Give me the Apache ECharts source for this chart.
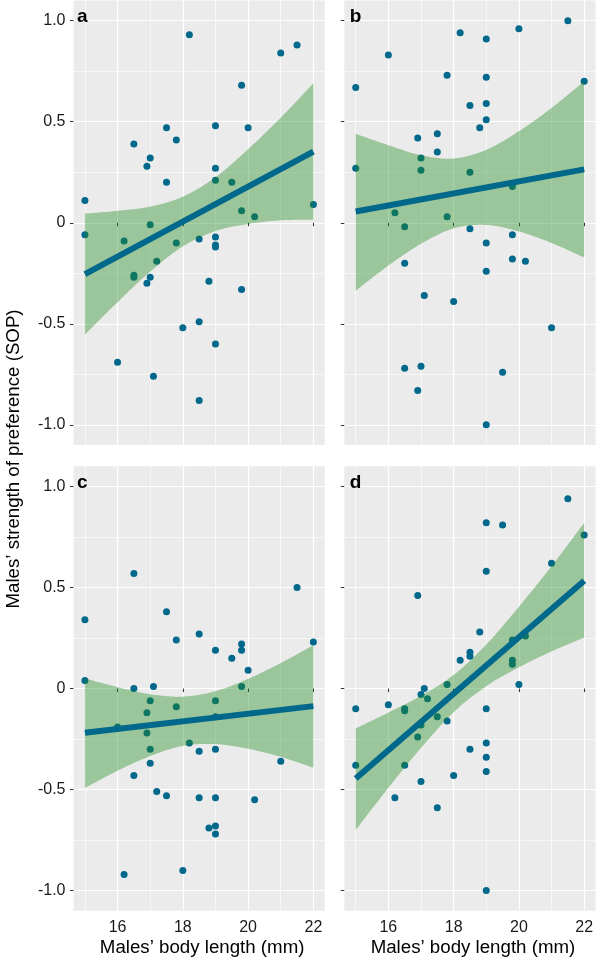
<!DOCTYPE html>
<html><head><meta charset="utf-8">
<script src="https://cdn.jsdelivr.net/npm/echarts@6/dist/echarts.min.js"></script>
<style>html,body{margin:0;padding:0;background:#fff}#c{width:597px;height:959px}</style>
</head><body><div id="c"></div>
<script>
// ---- tick labels ----
const xTicks = [16, 18, 20, 22];
const xTickLabels = ['16', '18', '20', '22'];
const xMinorTicks = [15, 17, 19, 21];
const yTicks = [-1, -0.5, 0, 0.5, 1];
const yTickLabels = ['-1.0', '-0.5', '0', '0.5', '1.0'];
const yMinorTicks = [-0.75, -0.25, 0.25, 0.75];
const panelLetters = ['a', 'b', 'c', 'd'];
const xTitle = 'Males\u2019 body length (mm)';
const yTitle = 'Males\u2019 strength of preference (SOP)';

// ---- panel a ----
const aX = [18.2,21.0,21.5,19.8,19.0,20.0,17.5,17.8,16.5,17.0,16.9,19.0,17.5,19.0,19.5,15.0,19.8,20.2,22.0,17.0,15.0,16.2,17.8,18.5,19.0,19.0,19.0,17.2,16.5,16.5,17.0,16.9,18.8,19.8,18.5,18.0,19.0,16.0,17.1,18.5];
const aY = [0.93,0.84,0.88,0.68,0.48,0.47,0.47,0.41,0.39,0.32,0.28,0.27,0.20,0.21,0.20,0.11,0.06,0.03,0.09,-0.01,-0.06,-0.09,-0.10,-0.08,-0.07,-0.11,-0.12,-0.19,-0.26,-0.27,-0.27,-0.30,-0.29,-0.33,-0.49,-0.52,-0.60,-0.69,-0.76,-0.88];
// ---- panel b ----
const bX = [21.5,20.0,18.2,19.0,16.0,17.8,19.0,22.0,15.0,18.5,19.0,19.0,18.8,16.9,17.5,17.5,17.0,17.0,15.0,18.5,19.8,16.2,17.8,16.5,18.5,19.8,19.0,19.8,20.2,16.5,19.0,17.1,18.0,21.0,16.5,17.0,19.5,16.9,19.0];
const bY = [1.0,0.96,0.94,0.91,0.83,0.73,0.72,0.70,0.67,0.58,0.59,0.51,0.47,0.42,0.44,0.35,0.32,0.26,0.27,0.25,0.18,0.05,0.03,-0.02,-0.03,-0.06,-0.10,-0.18,-0.19,-0.20,-0.24,-0.36,-0.39,-0.52,-0.72,-0.71,-0.74,-0.83,-1.0];
// ---- panel c ----
const cX = [16.5,21.5,15.0,17.5,17.8,18.5,19.0,19.8,19.8,19.5,22.0,20.0,15.0,16.5,17.1,19.8,17.0,19.0,17.8,16.9,16.0,19.0,16.9,18.2,17.0,18.5,19.0,17.0,21.0,16.5,17.2,17.5,18.5,19.0,20.2,18.8,19.0,19.0,18.0,16.2];
const cY = [0.57,0.50,0.34,0.38,0.24,0.27,0.19,0.22,0.19,0.15,0.23,0.09,0.04,0.0,0.01,0.01,-0.06,-0.06,-0.09,-0.12,-0.19,-0.14,-0.22,-0.27,-0.30,-0.31,-0.30,-0.37,-0.36,-0.43,-0.51,-0.53,-0.54,-0.54,-0.55,-0.69,-0.68,-0.72,-0.90,-0.92];
// ---- panel d ----
const dX = [21.5,19.0,19.5,22.0,21.0,19.0,16.9,18.8,18.5,18.5,18.2,19.8,20.2,19.8,19.8,20.0,17.8,17.1,17.0,17.2,16.0,16.5,16.5,15.0,19.0,17.5,17.8,17.0,16.9,19.0,18.5,19.0,15.0,16.5,19.0,18.0,17.0,16.2,17.5,19.0];
const dY = [0.94,0.82,0.81,0.76,0.62,0.58,0.46,0.28,0.18,0.16,0.14,0.24,0.26,0.14,0.12,0.02,0.02,0.0,-0.03,-0.05,-0.08,-0.10,-0.11,-0.10,-0.10,-0.14,-0.16,-0.18,-0.24,-0.27,-0.30,-0.34,-0.38,-0.38,-0.41,-0.43,-0.46,-0.54,-0.59,-1.0];

// ---- fitted lines and confidence bands ----
const lineX = [15, 22];
const aLine = [-0.254, 0.352];
const bLine = [0.056, 0.264];
const cLine = [-0.219, -0.087];
const dLine = [-0.445, 0.534];
const bandX = [15, 16, 17, 18, 19, 20, 21, 22];
const aHi = [0.045, 0.059, 0.080, 0.129, 0.225, 0.364, 0.520, 0.690];
const aLo = [-0.553, -0.393, -0.242, -0.117, -0.041, -0.006, 0.012, 0.015];
const bHi = [0.440, 0.384, 0.334, 0.318, 0.361, 0.453, 0.568, 0.700];
const bLo = [-0.336, -0.212, -0.104, -0.028, -0.011, -0.043, -0.100, -0.172];
const cHi = [0.050, 0.007, -0.028, -0.040, -0.013, 0.048, 0.126, 0.215];
const cLo = [-0.492, -0.407, -0.334, -0.284, -0.275, -0.298, -0.338, -0.392];
const dHi = [-0.197, -0.119, -0.036, 0.067, 0.218, 0.405, 0.606, 0.820];
const dLo = [-0.700, -0.491, -0.294, -0.117, 0.012, 0.105, 0.184, 0.252];

// ---- layout / style ----
const FONT = '"Liberation Sans", Arial, Helvetica, sans-serif';
const PT_COLOR = '#00688B';
const BAND_COLOR = 'rgba(34,139,34,0.4)';
const X_MIN = 14.65, X_MAX = 22.35, Y_MIN = -1.1, Y_MAX = 1.1;
const PW = 251.3, PH = 444.5;
const panels = [
  {x: aX, y: aY, hi: aHi, lo: aLo, line: aLine, left: 73.5, top: 0.5, showX: false, showY: true},
  {x: bX, y: bY, hi: bHi, lo: bLo, line: bLine, left: 344.3, top: 0.5, showX: false, showY: false},
  {x: cX, y: cY, hi: cHi, lo: cLo, line: cLine, left: 73.5, top: 466.3, showX: true, showY: true},
  {x: dX, y: dY, hi: dHi, lo: dLo, line: dLine, left: 344.3, top: 466.3, showX: true, showY: false}
];

// Catmull-Rom through pixel points (smooth curve for the band edges)
function smoothPts(pts, steps) {
  const out = [];
  for (let k = 0; k < pts.length - 1; k++) {
    const p0 = pts[Math.max(k - 1, 0)], p1 = pts[k], p2 = pts[k + 1], p3 = pts[Math.min(k + 2, pts.length - 1)];
    for (let s = 0; s < steps; s++) {
      const t = s / steps, t2 = t * t, t3 = t2 * t;
      out.push([0, 1].map(d => 0.5 * ((2 * p1[d]) + (-p0[d] + p2[d]) * t +
        (2 * p0[d] - 5 * p1[d] + 4 * p2[d] - p3[d]) * t2 + (-p0[d] + 3 * p1[d] - 3 * p2[d] + p3[d]) * t3)));
    }
  }
  out.push(pts[pts.length - 1]);
  return out;
}

const grids = [], xAxes = [], yAxes = [], series = [], graphics = [];
panels.forEach((p, i) => {
  grids.push({left: p.left, top: p.top, width: PW, height: PH, show: true,
    backgroundColor: '#EBEBEB', borderWidth: 0, containLabel: false, outerBoundsMode: 'none'});
  xAxes.push({
    type: 'value', gridIndex: i, min: X_MIN, max: X_MAX, position: 'bottom',
    axisLine: {show: false},
    axisTick: {show: true, length: 3.5, lineStyle: {color: '#333', width: 1}, customValues: xTicks},
    axisLabel: {show: p.showX, customValues: xTicks, margin: 9, fontSize: 16, color: '#1a1a1a', fontFamily: FONT,
      formatter: v => xTickLabels[xTicks.indexOf(v)]},
    splitLine: {show: true, lineStyle: {color: '#ffffff', width: 1.2}}
  });
  xAxes.push({
    type: 'value', gridIndex: i, min: X_MIN, max: X_MAX, position: 'bottom',
    axisLine: {show: false}, axisTick: {show: false, customValues: xMinorTicks},
    axisLabel: {show: false, customValues: xMinorTicks},
    splitLine: {show: true, lineStyle: {color: '#ffffff', width: 0.6}}
  });
  yAxes.push({
    type: 'value', gridIndex: i, min: Y_MIN, max: Y_MAX, position: 'left',
    axisLine: {show: false},
    axisTick: {show: true, length: 3.5, lineStyle: {color: '#333', width: 1}, customValues: yTicks},
    axisLabel: {show: p.showY, customValues: yTicks, margin: 8, fontSize: 16, color: '#1a1a1a', fontFamily: FONT,
      formatter: v => yTickLabels[yTicks.indexOf(v)]},
    splitLine: {show: true, lineStyle: {color: '#ffffff', width: 1.2}}
  });
  yAxes.push({
    type: 'value', gridIndex: i, min: Y_MIN, max: Y_MAX, position: 'left',
    axisLine: {show: false}, axisTick: {show: false, customValues: yMinorTicks},
    axisLabel: {show: false, customValues: yMinorTicks},
    splitLine: {show: true, lineStyle: {color: '#ffffff', width: 0.6}}
  });
  const xi = 2 * i, yi = 2 * i;
  series.push({
    type: 'scatter', xAxisIndex: xi, yAxisIndex: yi, z: 2, silent: true,
    data: p.x.map((x, j) => [x, p.y[j]]),
    symbolSize: 7, itemStyle: {color: PT_COLOR, opacity: 1}
  });
  series.push({
    type: 'custom', coordinateSystem: 'cartesian2d', xAxisIndex: xi, yAxisIndex: yi, z: 3, silent: true,
    clip: true,
    data: bandX.map((x, j) => [x, p.lo[j], p.hi[j]]),
    renderItem: (params, api) => {
      if (params.dataIndex !== 0) return null;
      const up = bandX.map((x, j) => api.coord([x, p.hi[j]]));
      const lo = bandX.map((x, j) => api.coord([x, p.lo[j]]));
      const pts = smoothPts(up, 16).concat(smoothPts(lo, 16).reverse());
      return {type: 'polygon', shape: {points: pts}, style: {fill: BAND_COLOR, stroke: null}};
    }
  });
  series.push({
    type: 'line', xAxisIndex: xi, yAxisIndex: yi, z: 4, silent: true,
    data: lineX.map((x, j) => [x, p.line[j]]),
    symbol: 'none', lineStyle: {color: PT_COLOR, width: 6, cap: 'butt'}
  });
  graphics.push({
    type: 'text', x: p.left + (p.showY ? 3.5 : 5.5), y: p.top + 16.3, silent: true, z: 100,
    style: {text: panelLetters[i], fontSize: 19, fontWeight: 'bold', fontFamily: FONT, fill: '#000',
      align: 'left', verticalAlign: 'middle'}
  });
  if (p.showX) {
    graphics.push({
      type: 'text', x: p.left + PW / 2 + 3, y: 948, silent: true, z: 100,
      style: {text: xTitle, fontSize: 18.7, fontFamily: FONT, fill: '#000', align: 'center', verticalAlign: 'middle'}
    });
  }
});
graphics.push({
  type: 'text', x: 14, y: 459, rotation: Math.PI / 2, silent: true, z: 100,
  style: {text: yTitle, fontSize: 18.7, fontFamily: FONT, fill: '#000', align: 'center', verticalAlign: 'middle'}
});

const chart = echarts.init(document.getElementById('c'), null, {renderer: 'canvas'});
chart.setOption({
  animation: false,
  backgroundColor: '#ffffff',
  grid: grids, xAxis: xAxes, yAxis: yAxes, series: series, graphic: graphics
});
</script></body></html>
